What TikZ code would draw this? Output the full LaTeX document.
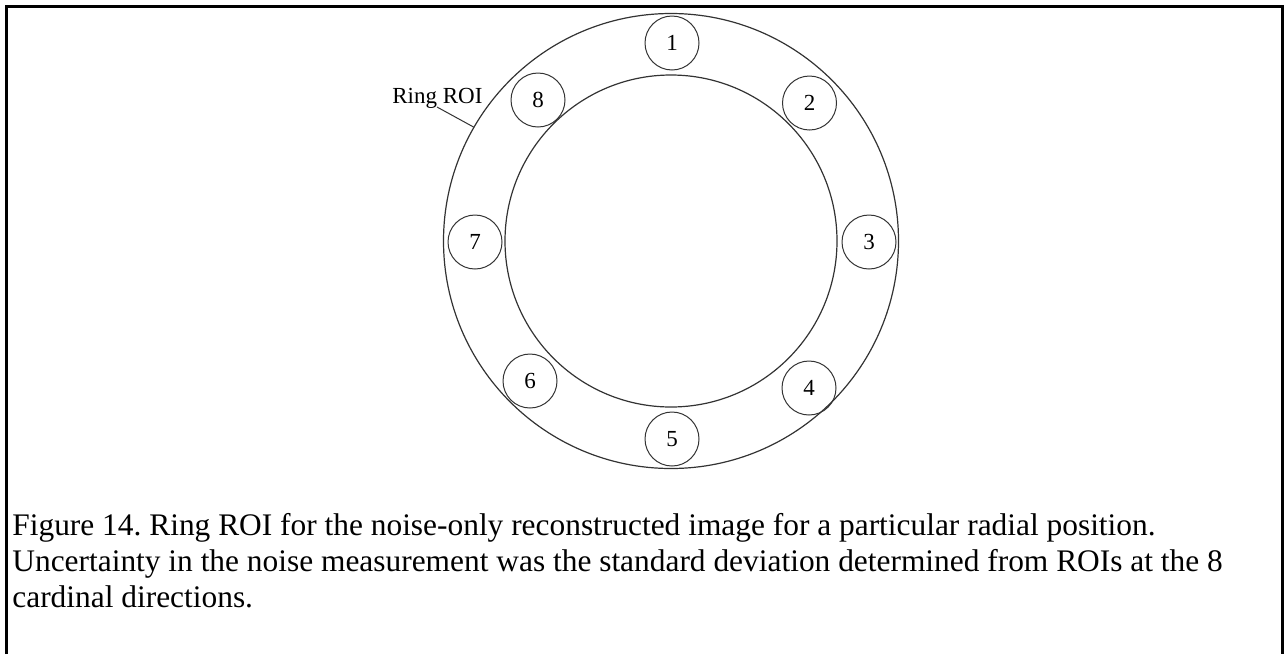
\documentclass[tikz,border=0pt]{standalone}
\usepackage{fontspec}
\setmainfont{Liberation Serif}
\usetikzlibrary{calc}
\begin{document}
\frenchspacing
\begin{tikzpicture}[x=0.5pt,y=-0.5pt,
  ringline/.style={draw=black!80,line width=0.6pt},
  roi/.style={circle,draw=black!80,line width=0.5pt,minimum size=27pt,inner sep=0pt,font=\fontsize{11.5}{13}\selectfont},
  frameline/.style={draw=black,line width=1.5pt},
  captiontext/.style={anchor=base west,align=left,inner sep=0pt,font=\fontsize{15.7}{18}\selectfont}]
\useasboundingbox (0,0) rectangle (1284,654);
\draw[frameline] (6,654) -- (6,6.3) -- (1282.5,6.3) -- (1282.5,654);
\coordinate (c) at (671,241);
\draw[ringline] (c) circle[radius=227.5];
\draw[ringline] (c) circle[radius=166];
\node[roi] (r1) at (672,43) {1};
\node[roi] (r2) at (809.5,103) {2};
\node[roi] (r3) at (869,242) {3};
\node[roi] (r4) at (809,388) {4};
\node[roi] (r5) at (672,439) {5};
\node[roi] (r6) at (530,381) {6};
\node[roi] (r7) at (475,242) {7};
\node[roi] (r8) at (538,100) {8};
\node[anchor=base west,inner sep=0pt,font=\fontsize{11.5}{13}\selectfont] (lbl) at (392,103) {Ring ROI};
\coordinate (ls) at (437,107);
\coordinate (le) at ([shift={(-150:227.5)}]c);
\draw[draw=black!80,line width=0.5pt] (ls) -- (le);
\node[captiontext] (cap) at (12,607) {Figure 14. Ring ROI for the noise-only reconstructed image for a particular radial position.\\
Uncertainty in the noise measurement was the standard deviation determined from ROIs at the 8\\
cardinal directions.};
\end{tikzpicture}
\end{document}
